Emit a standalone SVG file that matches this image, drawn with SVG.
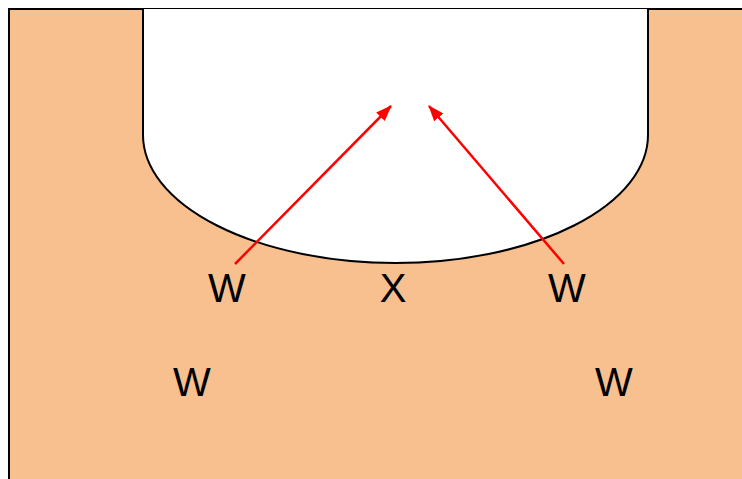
<svg xmlns="http://www.w3.org/2000/svg" width="742" height="479" viewBox="0 0 742 479">
<style>
.lbl{font-family:"Liberation Sans","Open Sans",Arial,sans-serif;font-size:40px;fill:#000;text-anchor:middle}
.arr{stroke:#ff0000;stroke-width:2.5;fill:none;marker-end:url(#ah)}
</style>
<defs>
<marker id="ah" markerWidth="16" markerHeight="12" refX="15" refY="6" orient="auto" markerUnits="userSpaceOnUse" viewBox="0 0 16 12">
<path d="M0,0 L16,6 L0,12 Z" fill="#ff0000"/>
</marker>
</defs>
<g id="ground">
<rect x="9" y="9" width="740" height="480" fill="#f8bf8f" stroke="#000" stroke-width="2"/>
</g>
<g id="cavity">
<path d="M143,9 L143,135 A252.5,128 0 0 0 648,135 L648,9" fill="#fff" stroke="#000" stroke-width="2"/>
</g>
<g id="connectors">
<line class="arr" x1="235" y1="264" x2="391" y2="106"/>
<line class="arr" x1="564" y1="264" x2="429" y2="106"/>
</g>
<g id="labels">
<text class="lbl" x="227" y="302">W</text>
<text class="lbl" x="393" y="302">X</text>
<text class="lbl" x="567" y="302">W</text>
<text class="lbl" x="192" y="396">W</text>
<text class="lbl" x="614" y="396">W</text>
</g>
</svg>
